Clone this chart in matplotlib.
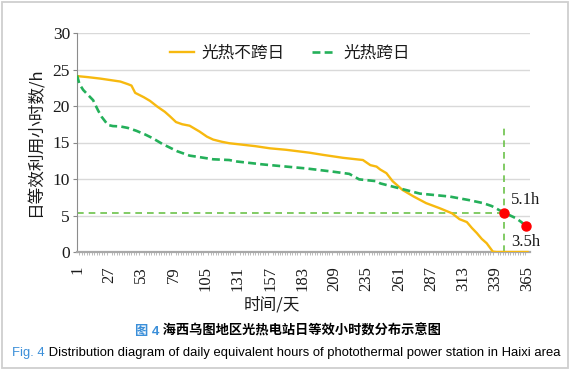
import matplotlib
matplotlib.use("Agg")
import matplotlib.pyplot as plt
from matplotlib.patches import Rectangle

# ---- data ----
DAYS_NO_CROSS = [1, 10, 20, 30, 36, 42, 45, 48, 55, 60, 66, 72, 76, 81, 86, 92,
                 100, 106, 111, 118, 124, 132, 145, 157, 170, 189, 200, 216, 232,
                 238, 243, 246, 251, 256, 264, 273, 283, 294, 304, 310, 316, 320,
                 324, 328, 332, 337, 340, 365]
HOURS_NO_CROSS = [24.1, 23.95, 23.75, 23.5, 23.35, 23.0, 22.8, 21.8, 21.2, 20.7,
                  19.9, 19.2, 18.6, 17.8, 17.5, 17.3, 16.5, 15.8, 15.4, 15.1, 14.9,
                  14.75, 14.5, 14.2, 14.0, 13.6, 13.3, 12.9, 12.6, 11.9, 11.7, 11.3,
                  10.8, 9.7, 8.5, 7.6, 6.7, 6.0, 5.3, 4.5, 4.1, 3.3, 2.6, 1.8, 1.2,
                  0.05, 0.0, 0.0]

DAYS_CROSS = [1, 3, 6, 10, 14, 18, 21, 26, 30, 36, 42, 49, 56, 62, 70, 76, 82, 87,
              92, 98, 111, 124, 130, 151, 170, 186, 208, 221, 229, 243, 246, 262,
              278, 290, 302, 318, 329, 336, 342, 346, 351, 356, 360, 364]
HOURS_CROSS = [24.2, 23.0, 22.2, 21.5, 20.8, 19.4, 18.5, 17.4, 17.25, 17.2, 17.0,
               16.6, 16.1, 15.6, 14.8, 14.3, 13.8, 13.5, 13.2, 13.05, 12.7, 12.6,
               12.4, 12.0, 11.7, 11.45, 11.0, 10.7, 9.95, 9.7, 9.4, 8.7, 8.0, 7.8,
               7.6, 7.1, 6.7, 6.3, 5.75, 5.4, 5.0, 4.6, 4.1, 3.5]

MARK_DAYS = [346, 364]
MARK_HOURS = [5.4, 3.5]
MARK_LABELS = ["5.1h", "3.5h"]
REF_DAY = 346
REF_HOUR = 5.4
REF_TOP = 17.2

X_TICKS = [1, 27, 53, 79, 105, 131, 157, 183, 209, 235, 261, 287, 313, 339, 365]
Y_TICKS = [0, 5, 10, 15, 20, 25, 30]

ORANGE = "#f7b90f"
GREEN = "#24b05a"
REF_GREEN = "#6cc24a"
BLUE = "#3b8fd9"
TEXT = "#1a1a1a"
SERIF = ["Liberation Serif", "Noto Sans CJK SC"]
CJK = ["Noto Sans CJK SC", "DejaVu Sans"]
CAP = ["Liberation Sans", "Noto Sans CJK SC"]

W, H = 571, 374
fig = plt.figure(figsize=(W / 100, H / 100), dpi=100)
fig.patch.set_facecolor("white")
fig.add_artist(Rectangle((2 / W, 1 - 368 / H), 566 / W, 366 / H, transform=fig.transFigure,
                         fill=False, edgecolor="#cfcfcf", linewidth=1.3))

ax = fig.add_axes([77 / W, 1 - 252 / H, (530 - 77) / W, (252 - 33) / H])

ax.plot(DAYS_NO_CROSS, HOURS_NO_CROSS, color=ORANGE, lw=1.7, label="光热不跨日",
        solid_joinstyle="round", zorder=3)
ax.plot(DAYS_CROSS, HOURS_CROSS, color=GREEN, lw=1.9, dashes=(3, 1.6),
        label="光热跨日", zorder=3)

# reference lines
ax.plot([1, REF_DAY], [REF_HOUR, REF_HOUR], color=REF_GREEN, lw=1.2, dashes=(4, 3), zorder=2)
ax.plot([REF_DAY, REF_DAY], [0, REF_TOP], color=REF_GREEN, lw=1.2, dashes=(4, 3), zorder=2)
ax.plot(MARK_DAYS, MARK_HOURS, "o", color="#ff0000", ms=6.5, zorder=4, clip_on=False)
ax.text(352, 7.1, MARK_LABELS[0], family=SERIF, fontsize=12, color=TEXT,
        va="center", ha="left", clip_on=False)
ax.text(352, 1.4, MARK_LABELS[1], family=SERIF, fontsize=12, color=TEXT,
        va="center", ha="left", clip_on=False)

ax.set_xlim(1, 367)
ax.set_ylim(0, 30)
ax.set_xticks(X_TICKS)
ax.set_xticklabels([str(t) for t in X_TICKS], rotation=90, family=SERIF,
                   fontsize=12, color=TEXT)
ax.set_yticks(Y_TICKS)
ax.set_yticklabels([str(t) for t in Y_TICKS], family=SERIF, fontsize=12.5, color=TEXT)
ax.set_xticks(range(1, 366, 2), minor=True)
ax.tick_params(axis="x", which="major", length=0, pad=10)
ax.tick_params(axis="x", which="minor", length=2, color="#b0b0b0", width=0.6)
ax.tick_params(axis="y", length=3, color="#888888", pad=2)

ax.grid(True, axis="y", color="#d9d9d9", lw=1.0)
ax.set_axisbelow(True)
for s in ("top", "right"):
    ax.spines[s].set_visible(False)
ax.spines["left"].set_color("#8c8c8c")
ax.spines["bottom"].set_color("#a8a8a8")
ax.spines["bottom"].set_linewidth(1.6)

leg = fig.legend(loc="center", bbox_to_anchor=(290 / W, 1 - 53 / H), ncol=2,
                 frameon=False, prop={"family": CJK, "size": 12},
                 handlelength=1.4, handletextpad=0.5, columnspacing=1.6)
for t in leg.get_texts():
    t.set_color(TEXT)

fig.text(35 / W, 1 - 142 / H, "日等效利用小时数/h", rotation=90, ha="center", va="center",
         family=CJK, fontsize=12, color=TEXT)
fig.text(272 / W, 1 - 305 / H, "时间/天", ha="center", va="center",
         family=CJK, fontsize=12, color=TEXT)

# caption, two lines with a blue figure number
c1 = fig.text(135 / W, 1 - 338 / H, "图 4", color=BLUE, fontsize=9.5, weight="bold",
              family=CAP, va="bottom", ha="left")
fig.axes[0].annotate(" 海西乌图地区光热电站日等效小时数分布示意图", xy=(1, 0), xycoords=c1,
                     va="bottom", ha="left", fontsize=9.5, weight="bold", family=CAP,
                     color="black", annotation_clip=False)
c2 = fig.text(12 / W, 1 - 359 / H, "Fig. 4", color=BLUE, fontsize=9.4,
              family=CAP, va="bottom", ha="left")
fig.axes[0].annotate(" Distribution diagram of daily equivalent hours of photothermal "
                     "power station in Haixi area", xy=(1, 0), xycoords=c2,
                     va="bottom", ha="left", fontsize=9.4, family=CAP,
                     color="black", annotation_clip=False)

fig.savefig("out.png", dpi=100)
